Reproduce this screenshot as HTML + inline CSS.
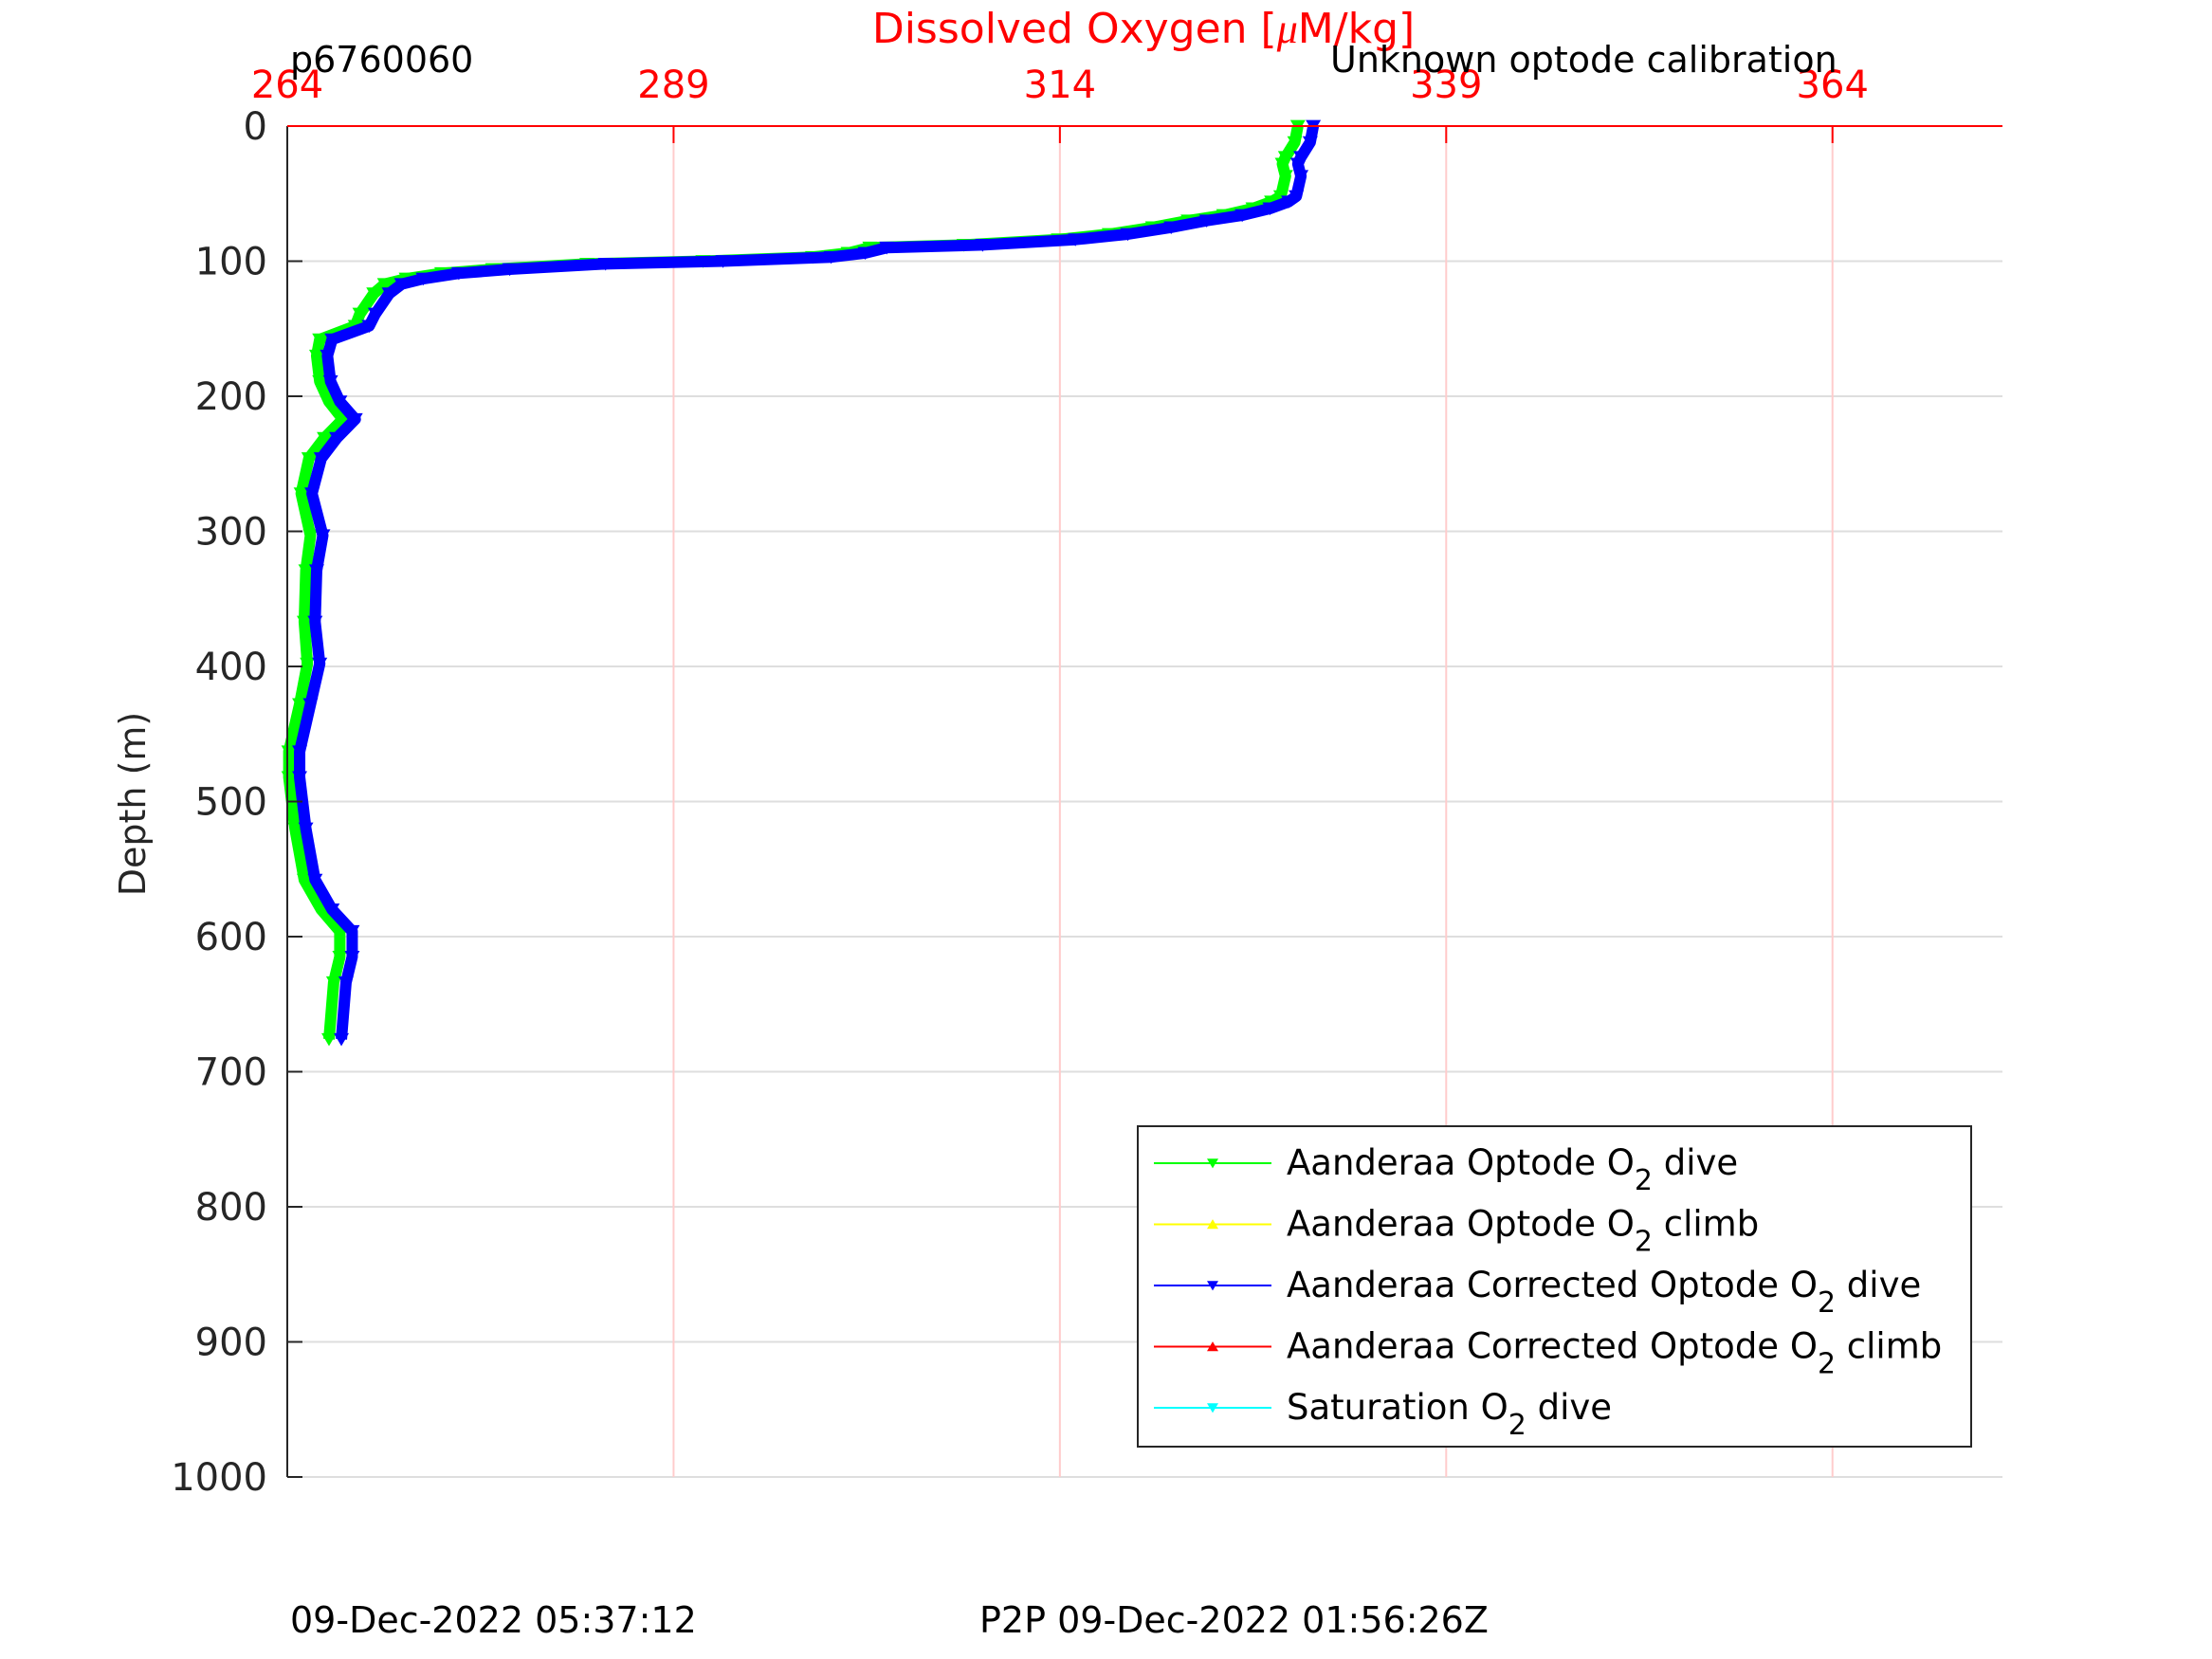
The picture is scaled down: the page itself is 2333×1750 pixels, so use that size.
<!DOCTYPE html>
<html><head><meta charset="utf-8"><style>
html,body{margin:0;padding:0;background:#fff;}
svg{display:block;font-family:"DejaVu Sans","Liberation Sans",sans-serif;}
</style></head><body>
<svg id="chart" width="2333" height="1750" viewBox="0 0 2333 1750" xmlns="http://www.w3.org/2000/svg">
<rect width="2333" height="1750" fill="#fff"/>
<g id="grid"></g>
<g id="series"></g>
<g id="axes"></g>
<text x="1206" y="45" text-anchor="middle" font-size="44" fill="#ff0000">Dissolved Oxygen [<tspan font-family="Liberation Serif, serif" font-style="italic">μ</tspan>M/kg]</text>
<text x="306" y="76" font-size="38" fill="#000">p6760060</text>
<text x="1403" y="76" font-size="38" fill="#000">Unknown optode calibration</text>
<text transform="translate(153,848) rotate(-90)" text-anchor="middle" font-size="38" fill="#262626">Depth (m)</text>
<text x="306" y="1722" font-size="38" fill="#000">09-Dec-2022 05:37:12</text>
<text x="1033" y="1722" font-size="38" fill="#000">P2P 09-Dec-2022 01:56:26Z</text>
<g id="legend"></g>
</svg>
<script>
const depths = [0,12,23,28,37,52,56,61,66,70,75,80,84,88,90,94,97,100,102,106,109,113,117,124,139,148,158,170,189,204,217,231,246,272,303,329,367,398,428,463,482,520,558,580,596,615,634,676];
const greenO2 = [329.4,329.2,328.6,328.4,328.6,328.3,327.7,326.5,324.6,322.3,320.0,317.2,313.9,307.8,301.7,300.3,298.0,290.9,283.4,277.3,274.0,271.7,270.3,269.6,268.7,268.4,266.1,265.9,266.1,266.7,267.6,266.4,265.4,264.9,265.5,265.2,265.1,265.3,264.8,264.1,264.1,264.5,265.1,266.2,267.4,267.4,267.0,266.7];
const blueO2 = [330.4,330.2,329.6,329.4,329.6,329.3,328.8,327.6,325.8,323.5,321.2,318.4,315.0,309.0,302.8,301.4,299.2,292.2,284.6,278.4,275.1,272.8,271.4,270.6,269.7,269.3,266.9,266.6,266.8,267.4,268.4,267.2,266.2,265.6,266.3,265.9,265.8,266.1,265.5,264.8,264.8,265.2,265.8,266.9,268.2,268.2,267.8,267.5];
const xTicks = [264,289,314,339,364];
const yTicks = [0,100,200,300,400,500,600,700,800,900,1000];
const legendLabels = [["Aanderaa Optode O","2"," dive"],["Aanderaa Optode O","2"," climb"],["Aanderaa Corrected Optode O","2"," dive"],["Aanderaa Corrected Optode O","2"," climb"],["Saturation O","2"," dive"]];
const legendColors = ["#00ff00","#ffff00","#0000ff","#ff0000","#00ffff"];

const NS="http://www.w3.org/2000/svg";
const X0=303, X1=2112, Y0=133, Y1=1558, XMIN=264, XMAX=375, YMIN=0, YMAX=1000;
const xs=v=>X0+(v-XMIN)/(XMAX-XMIN)*(X1-X0);
const ys=v=>Y0+(v-YMIN)/(YMAX-YMIN)*(Y1-Y0);
function mk(tag,attrs,parent){const e=document.createElementNS(NS,tag);for(const k in attrs)e.setAttribute(k,attrs[k]);parent.appendChild(e);return e;}
const grid=document.getElementById('grid'), axes=document.getElementById('axes'), ser=document.getElementById('series'), leg=document.getElementById('legend');

yTicks.forEach(t=>{
  const g=mk('line',{x1:X0,x2:X1,y1:ys(t),y2:ys(t),stroke:'#dedede','stroke-width':2},grid);
  
  
  const tk=mk('line',{x1:X0,x2:X0+16,y1:ys(t),y2:ys(t),stroke:'#262626','stroke-width':2},axes);
  
  
  const lb=mk('text',{x:282,y:ys(t)+14,'text-anchor':'end','font-size':40,fill:'#262626'},axes);
  lb.textContent=t;
  
  
});
xTicks.forEach(t=>{
  if(t!==XMIN){
    const g=mk('line',{x1:xs(t),x2:xs(t),y1:Y0,y2:Y1,stroke:'#ffcccc','stroke-width':2},grid);
    
    
  }
  const tk=mk('line',{x1:xs(t),x2:xs(t),y1:Y0,y2:Y0+18,stroke:'#ff0000','stroke-width':2},axes);
  
  
  const lb=mk('text',{x:xs(t),y:103,'text-anchor':'middle','font-size':40,fill:'#ff0000'},axes);
  lb.textContent=t;
  
  
});
const la=mk('line',{x1:X0,x2:X0,y1:Y0,y2:Y1,stroke:'#262626','stroke-width':2},axes);


const ta=mk('line',{x1:X0,x2:X1,y1:Y0,y2:Y0,stroke:'#ff0000','stroke-width':2},axes);



function tri(x,y,s,down){return down?`${x-s},${y-s*0.8} ${x+s},${y-s*0.8} ${x},${y+s*0.9}`:`${x-s},${y+s*0.8} ${x+s},${y+s*0.8} ${x},${y-s*0.9}`;}
function drawSeries(vals,color,name){
  const g=mk('g',{},ser);
  
  
  const pts=vals.map((v,i)=>xs(v)+','+ys(depths[i])).join(' ');
  const pl=mk('polyline',{points:pts,fill:'none',stroke:color,'stroke-width':12,'stroke-linejoin':'round'},g);
  
  
  vals.forEach((v,i)=>{
    const m=mk('polygon',{points:tri(xs(v),ys(depths[i]),8,true),fill:color},g);
    
    
  });
}
drawSeries(greenO2,'#00ff00','optode-dive-series');
drawSeries(blueO2,'#0000ff','corrected-optode-dive-series');

const lb=mk('rect',{x:1200,y:1188,width:879,height:338,fill:'#fff',stroke:'#262626','stroke-width':2},leg);


legendLabels.forEach((parts,i)=>{
  const y=1227+i*64.5;
  const c=legendColors[i];
  const e=mk('g',{},leg);
  
  
  mk('line',{x1:1217,x2:1341,y1:y,y2:y,stroke:c,'stroke-width':2},e);
  mk('polygon',{points:tri(1279,y,6,!(i===1||i===3)),fill:c},e);
  const t=mk('text',{x:1357,y:y+12,'font-size':37,fill:'#000'},e);
  const a=mk('tspan',{},t); a.textContent=parts[0];
  const b=mk('tspan',{dy:16,'font-size':30},t); b.textContent=parts[1];
  const d=mk('tspan',{dy:-16},t); d.textContent=parts[2];
});
</script>
</body></html>
